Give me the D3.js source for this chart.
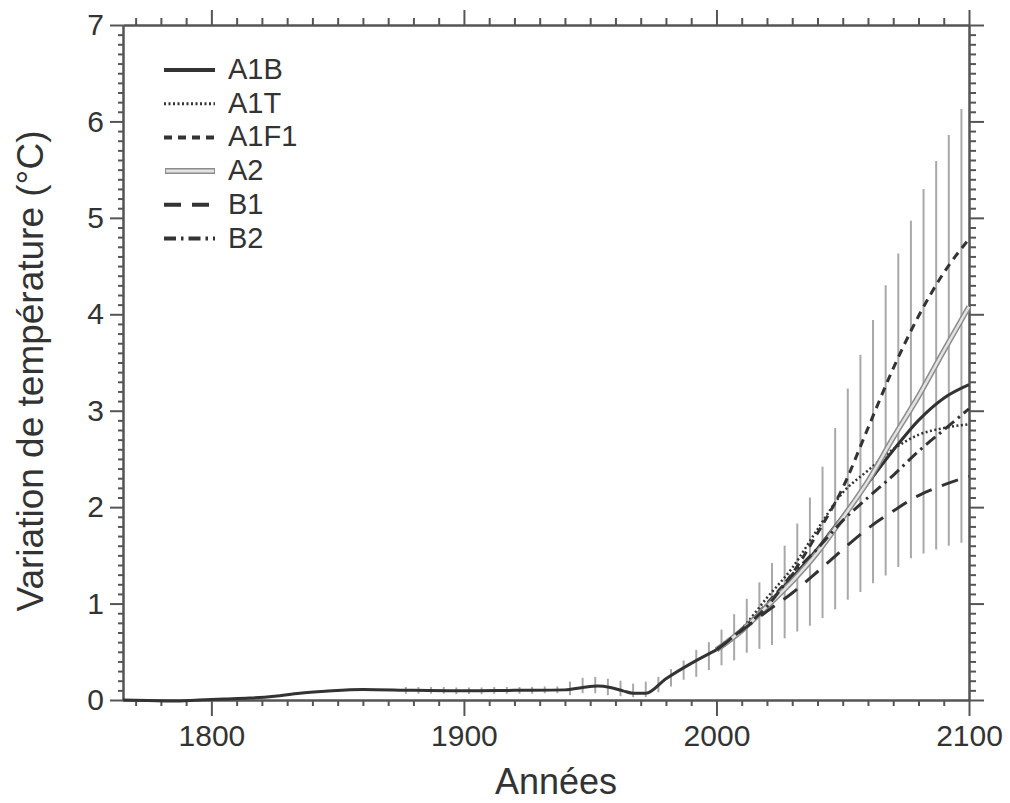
<!DOCTYPE html>
<html>
<head>
<meta charset="utf-8">
<script src="https://cdn.jsdelivr.net/npm/d3@7"></script>
<style>
  body { margin: 0; background: #fff; }
  svg { display: block; font-family: "Liberation Sans", Arial, sans-serif; }
  .axis path, .axis line { stroke: #555; stroke-width: 2; }
  .axis text { fill: #333; font-size: 30px; }
</style>
</head>
<body>
<svg id="chart" width="1010" height="803"></svg>
<script>
// historical curve, shared by every scenario
var histYears = [1765, 1775, 1785, 1795, 1805, 1815, 1825, 1835, 1845, 1860, 1880, 1900, 1920, 1940, 1947, 1953, 1958, 1963, 1967, 1972, 1980, 1990, 2000];
var histTemp  = [0.00, -0.005, -0.01, 0.00, 0.01, 0.02, 0.04, 0.07, 0.09, 0.11, 0.10, 0.095, 0.10, 0.105, 0.13, 0.145, 0.13, 0.095, 0.07, 0.07, 0.22, 0.38, 0.52];

// projections
var projYears = [2000, 2010, 2020, 2030, 2040, 2050, 2060, 2070, 2080, 2090, 2100];
var A1B  = [0.52, 0.73, 0.99, 1.27, 1.57, 1.91, 2.25, 2.59, 2.90, 3.13, 3.27];
var A1T  = [0.52, 0.74, 1.06, 1.37, 1.77, 2.15, 2.38, 2.60, 2.75, 2.82, 2.86];
var A1F1 = [0.52, 0.73, 1.00, 1.31, 1.73, 2.20, 2.82, 3.44, 3.98, 4.43, 4.78];
var A2   = [0.52, 0.72, 0.97, 1.23, 1.53, 1.89, 2.27, 2.72, 3.15, 3.62, 4.08];
var B1   = [0.52, 0.72, 0.92, 1.11, 1.33, 1.56, 1.78, 1.96, 2.12, 2.23, 2.32];
var B2   = [0.52, 0.73, 0.97, 1.30, 1.57, 1.86, 2.10, 2.33, 2.58, 2.80, 3.02];

// uncertainty bars
var barYears = [1877, 1882, 1887, 1892, 1897, 1902, 1907, 1912, 1917, 1922, 1927, 1932, 1937,
  1942, 1947, 1952, 1957, 1962, 1967, 1972, 1977, 1982, 1987, 1992, 1997, 2002, 2007, 2012,
  2017, 2022, 2027, 2032, 2037, 2042, 2047, 2052, 2057, 2062, 2067, 2072, 2077, 2082, 2087, 2092, 2097];
var barLow  = [0.065, 0.065, 0.065, 0.065, 0.06, 0.06, 0.06, 0.065, 0.065, 0.065, 0.065, 0.07, 0.07,
  0.05, 0.07, 0.07, 0.05, 0.04, 0.03, 0.03, 0.08, 0.14, 0.21, 0.24, 0.31, 0.36, 0.41, 0.49,
  0.53, 0.57, 0.64, 0.71, 0.77, 0.85, 0.94, 1.04, 1.12, 1.21, 1.29, 1.38, 1.47, 1.52, 1.56, 1.60, 1.63];
var barHigh = [0.135, 0.135, 0.135, 0.135, 0.13, 0.13, 0.13, 0.135, 0.135, 0.135, 0.135, 0.14, 0.14,
  0.19, 0.23, 0.24, 0.22, 0.20, 0.17, 0.19, 0.24, 0.32, 0.41, 0.52, 0.60, 0.73, 0.89, 1.05,
  1.22, 1.42, 1.60, 1.83, 2.10, 2.42, 2.82, 3.23, 3.58, 3.94, 4.30, 4.63, 4.97, 5.30, 5.59, 5.86, 6.13];

var xMajor = [1800, 1900, 2000, 2100];
var yMajor = [0, 1, 2, 3, 4, 5, 6, 7];

var scenarios = [
  {name: "A1B",  values: A1B,  dash: null},
  {name: "A1T",  values: A1T,  dash: "2,2.5", thin: true},
  {name: "A1F1", values: A1F1, dash: "8,6"},
  {name: "A2",   values: A2,   dash: null, twin: true},
  {name: "B1",   values: B1,   dash: "17,11"},
  {name: "B2",   values: B2,   dash: "12,5,2.5,5"}
];

var svg = d3.select("#chart");
var x = d3.scaleLinear().domain([1765, 2100]).range([123, 969]);
var y = d3.scaleLinear().domain([0, 7]).range([700, 25]);

var xMinor = d3.range(1770, 2100, 10).filter(function(d) { return xMajor.indexOf(d) < 0; });
var yMinor = d3.range(1, 70).filter(function(d) { return d % 10 != 0; }).map(function(d) { return d / 10; });

// minor ticks on all four sides
svg.append("g").attr("class", "axis").attr("transform", "translate(0,700)")
  .call(d3.axisBottom(x).tickValues(xMinor).tickSize(6).tickSizeOuter(0).tickFormat(""));
svg.append("g").attr("class", "axis").attr("transform", "translate(0,25)")
  .call(d3.axisTop(x).tickValues(xMinor).tickSize(7).tickSizeOuter(0).tickFormat(""));
svg.append("g").attr("class", "axis").attr("transform", "translate(123,0)")
  .call(d3.axisLeft(y).tickValues(yMinor).tickSize(5).tickSizeOuter(0).tickFormat(""));
svg.append("g").attr("class", "axis").attr("transform", "translate(969,0)")
  .call(d3.axisRight(y).tickValues(yMinor).tickSize(7).tickSizeOuter(0).tickFormat(""));

// major ticks and labels
svg.append("g").attr("class", "axis").attr("transform", "translate(0,700)")
  .call(d3.axisBottom(x).tickValues(xMajor).tickSize(16).tickSizeOuter(0).tickPadding(9).tickFormat(d3.format("d")));
svg.append("g").attr("class", "axis").attr("transform", "translate(0,25)")
  .call(d3.axisTop(x).tickValues(xMajor).tickSize(15).tickSizeOuter(0).tickFormat(""));
svg.append("g").attr("class", "axis").attr("transform", "translate(123,0)")
  .call(d3.axisLeft(y).tickValues(yMajor).tickSize(13).tickSizeOuter(0).tickPadding(6).tickFormat(d3.format("d")));
svg.append("g").attr("class", "axis").attr("transform", "translate(969,0)")
  .call(d3.axisRight(y).tickValues(yMajor).tickSize(15).tickSizeOuter(0).tickFormat(""));

// axis titles
svg.append("text")
  .attr("x", 556).attr("y", 794)
  .attr("text-anchor", "middle")
  .attr("fill", "#333").attr("font-size", 36)
  .text("Années");
svg.append("text")
  .attr("transform", "translate(43,371) rotate(-90)")
  .attr("text-anchor", "middle")
  .attr("fill", "#333").attr("font-size", 37)
  .text("Variation de température (°C)");

// bars
svg.append("g").selectAll("line")
  .data(barYears)
  .enter().append("line")
    .attr("x1", function(d) { return x(d); })
    .attr("x2", function(d) { return x(d); })
    .attr("y1", function(d, i) { return y(barLow[i]); })
    .attr("y2", function(d, i) { return y(barHigh[i]); })
    .attr("stroke", "#a8a8a8")
    .attr("stroke-width", 2);

var line = d3.line()
  .x(function(d) { return x(d[0]); })
  .y(function(d) { return y(d[1]); })
  .curve(d3.curveMonotoneX);

// historical trunk
svg.append("path")
  .attr("d", line(d3.zip(histYears, histTemp)))
  .attr("fill", "none").attr("stroke", "#333").attr("stroke-width", 3);

// scenario curves
scenarios.forEach(function(s) {
  var pts = d3.zip(projYears, s.values);
  if(s.twin) {
    svg.append("path").attr("d", line(pts))
      .attr("fill", "none").attr("stroke", "#8c8c8c").attr("stroke-width", 5.5);
    svg.append("path").attr("d", line(pts))
      .attr("fill", "none").attr("stroke", "#e2e2e2").attr("stroke-width", 2.5);
  } else {
    svg.append("path").attr("d", line(pts))
      .attr("fill", "none").attr("stroke", "#333")
      .attr("stroke-width", s.thin ? 2.5 : 3)
      .attr("stroke-dasharray", s.dash);
  }
});

// legend
var legend = svg.append("g");
scenarios.forEach(function(s, i) {
  var ly = 70 + i * 33.7;
  if(s.twin) {
    legend.append("line").attr("x1", 165).attr("x2", 215).attr("y1", ly).attr("y2", ly)
      .attr("stroke", "#8c8c8c").attr("stroke-width", 6);
    legend.append("line").attr("x1", 166).attr("x2", 214).attr("y1", ly).attr("y2", ly)
      .attr("stroke", "#e2e2e2").attr("stroke-width", 3);
  } else {
    legend.append("line").attr("x1", 164).attr("x2", 215).attr("y1", ly).attr("y2", ly)
      .attr("stroke", "#333")
      .attr("stroke-width", s.thin ? 3 : 4)
      .attr("stroke-dasharray", s.dash);
  }
  legend.append("text")
    .attr("x", 228).attr("y", ly + 9)
    .attr("fill", "#333").attr("font-size", 29)
    .text(s.name);
});
</script>
</body>
</html>
